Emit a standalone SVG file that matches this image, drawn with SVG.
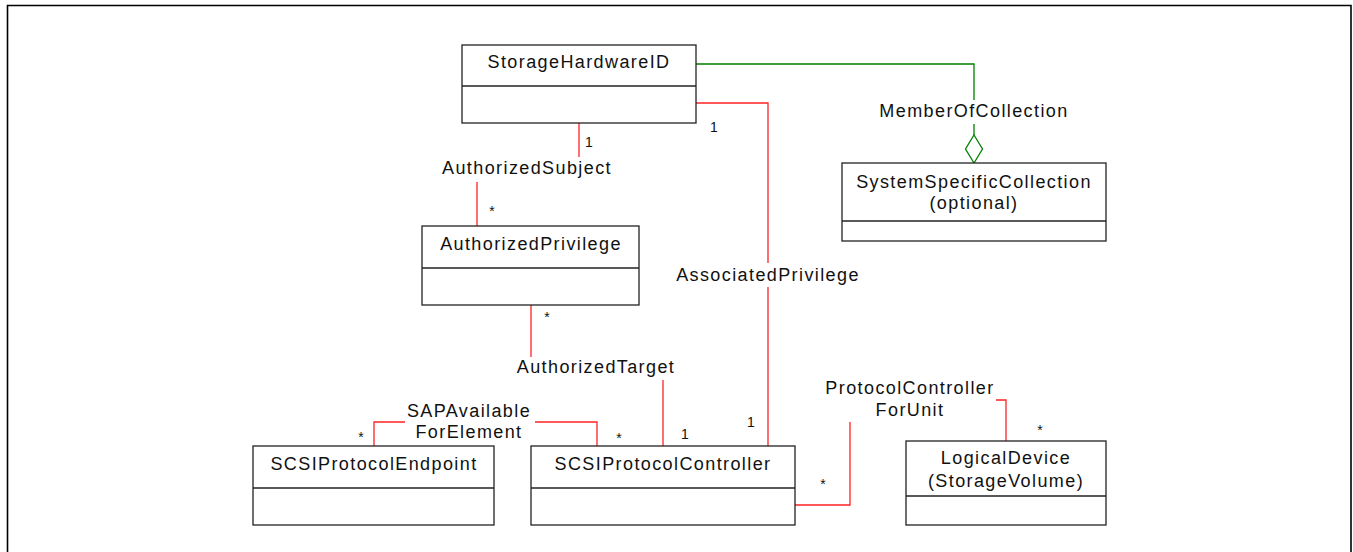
<svg xmlns="http://www.w3.org/2000/svg" width="1353" height="552" viewBox="0 0 1353 552">
<style>
.box{fill:#fff;stroke:#222;stroke-width:1.3}
.div{stroke:#222;stroke-width:1.3}
.t{font-family:"Liberation Sans",Arial,sans-serif;font-size:18px;letter-spacing:1.4px;fill:#111;text-anchor:middle}
.m{font-family:"Liberation Sans",Arial,sans-serif;font-size:14px;fill:#111;text-anchor:middle}
.r{fill:none;stroke:#f22;stroke-width:1.3}
.g{fill:none;stroke:#008000;stroke-width:1.3}
</style>
<rect width="1353" height="552" fill="#fff"/>
<path d="M7.5,552 V5.5 H1351 V552" fill="none" stroke="#000" stroke-width="1.6"/>
<g id="connectors">
<path class="g" d="M696,64 H974 V100"/>
<path class="g" d="M974,124 V135"/>
<path class="g" d="M974,135 L982.5,149 L974,163 L965.5,149 Z" fill="#fff"/>
<path class="r" d="M696,103 H768 V263"/>
<path class="r" d="M768,287 V446"/>
<path class="r" d="M579,123 V157"/>
<path class="r" d="M477,182 V226"/>
<path class="r" d="M531,305 V357"/>
<path class="r" d="M663,380 V446"/>
<path class="r" d="M374,446 V422 H405"/>
<path class="r" d="M535,422 H597 V446"/>
<path class="r" d="M795,505 H850 V422"/>
<path class="r" d="M996,400 H1006 V441"/>
<text class="t" x="974" y="117">MemberOfCollection</text>
<text class="t" x="768" y="281">AssociatedPrivilege</text>
<text class="t" x="527" y="174">AuthorizedSubject</text>
<text class="t" x="596" y="373">AuthorizedTarget</text>
<text class="t" x="469" y="417">SAPAvailable</text>
<text class="t" x="469" y="438">ForElement</text>
<text class="t" x="910" y="394">ProtocolController</text>
<text class="t" x="910" y="416">ForUnit</text>
<text class="m" x="714" y="132">1</text>
<text class="m" x="589" y="147">1</text>
<text class="m" x="492" y="216">*</text>
<text class="m" x="547" y="322">*</text>
<text class="m" x="361" y="442">*</text>
<text class="m" x="619" y="443">*</text>
<text class="m" x="685" y="439">1</text>
<text class="m" x="751" y="427">1</text>
<text class="m" x="823" y="489">*</text>
<text class="m" x="1040" y="435">*</text>
</g>
<g id="StorageHardwareID">
<rect class="box" x="462" y="45" width="234" height="78"/>
<line class="div" x1="462" y1="86" x2="696" y2="86"/>
<text class="t" x="579" y="68">StorageHardwareID</text>
</g>
<g id="SystemSpecificCollection">
<rect class="box" x="842" y="163" width="264" height="78"/>
<line class="div" x1="842" y1="221" x2="1106" y2="221"/>
<text class="t" x="974" y="188">SystemSpecificCollection</text>
<text class="t" x="974" y="209">(optional)</text>
</g>
<g id="AuthorizedPrivilege">
<rect class="box" x="422" y="226" width="217" height="79"/>
<line class="div" x1="422" y1="268" x2="639" y2="268"/>
<text class="t" x="531" y="250">AuthorizedPrivilege</text>
</g>
<g id="SCSIProtocolEndpoint">
<rect class="box" x="253" y="446" width="241" height="79"/>
<line class="div" x1="253" y1="488" x2="494" y2="488"/>
<text class="t" x="374" y="470">SCSIProtocolEndpoint</text>
</g>
<g id="SCSIProtocolController">
<rect class="box" x="531" y="446" width="264" height="79"/>
<line class="div" x1="531" y1="488" x2="795" y2="488"/>
<text class="t" x="663" y="470">SCSIProtocolController</text>
</g>
<g id="LogicalDevice">
<rect class="box" x="906" y="441" width="200" height="84"/>
<line class="div" x1="906" y1="496" x2="1106" y2="496"/>
<text class="t" x="1006" y="464">LogicalDevice</text>
<text class="t" x="1006" y="487">(StorageVolume)</text>
</g>
</svg>
